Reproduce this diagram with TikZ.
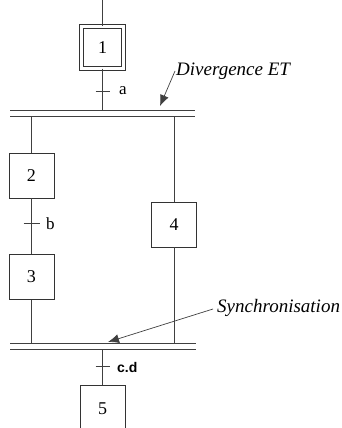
\documentclass[tikz,border=0pt]{standalone}
\usepackage{fontspec}
\setmainfont{Liberation Serif}
\newfontfamily\labelfont{Liberation Sans}
\usetikzlibrary{arrows.meta}

\tikzset{
  stepbox/.style={draw=black!80, line width=0.9pt, minimum width=45pt, minimum height=45pt, inner sep=0pt, font=\fontsize{18}{21}\selectfont},
  initstep/.style={stepbox, double, double distance=3.2pt, minimum width=41.5pt, minimum height=41.5pt},
  link/.style={draw=black!75, line width=0.9pt},
  note/.style={font=\fontsize{19}{22}\selectfont\itshape, inner sep=0pt},
  cond/.style={font=\fontsize{17}{20}\selectfont, inner sep=0pt},
  pointer/.style={draw=black!75, line width=0.7pt, -{Latex[length=11pt,width=9pt]}}
}

\begin{document}
\begin{tikzpicture}[x=1pt, y=-1pt]
\useasboundingbox (0,0) rectangle (342,428);
\clip (0,0) rectangle (342,428);

% Steps
\node[initstep] (s1) at (102.5,47.5) {1};
\node[stepbox] (s2) at (31.5,175.5) {2};
\node[stepbox] (s3) at (31.5,277) {3};
\node[stepbox] (s4) at (174,224.5) {4};
\node[stepbox, minimum height=48pt] (s5) at (102.5,409) {5};

% Coordinates of the double bars
\coordinate (top) at (102.5,0);
\coordinate (divA) at (10,110);   \coordinate (divB) at (195,110);
\coordinate (divC) at (10,116.5); \coordinate (divD) at (195,116.5);
\coordinate (synA) at (10,343);   \coordinate (synB) at (196,343);
\coordinate (synC) at (10,349);   \coordinate (synD) at (196,349);

% Divergence ET and synchronisation bars
\draw[link] (divA) -- (divB);
\draw[link] (divC) -- (divD);
\draw[link] (synA) -- (synB);
\draw[link] (synC) -- (synD);

% Links
\draw[link] (top) -- (s1.north);
\draw[link] (s1.south) -- (s1.south |- divA);
\draw[link] (s2.north |- divC) -- (s2.north);
\draw[link] (s2.south) -- (s3.north);
\draw[link] (s3.south) -- (s3.south |- synA);
\draw[link] (s4.north |- divC) -- (s4.north);
\draw[link] (s4.south) -- (s4.south |- synA);
\draw[link] (s5.north |- synC) -- (s5.north);

% Transitions
\coordinate (ta) at (102.5,91);
\coordinate (tb) at (31.5,223);
\coordinate (tc) at (102.5,366);
\draw[link] ([xshift=-7pt]ta) -- ([xshift=7pt]ta);
\draw[link] ([xshift=-8pt]tb) -- ([xshift=8pt]tb);
\draw[link] ([xshift=-7pt]tc) -- ([xshift=7pt]tc);
\node[cond, anchor=base west] (la) at (119,94) {a};
\node[cond, anchor=base west] (lb) at (46,229) {b};
\node[cond, font=\labelfont\bfseries\fontsize{14}{16}\selectfont, anchor=base west] (lc) at (117,372) {c.d};

% Comments with arrows
\node[note, anchor=base west] (div) at (176,75) {Divergence ET};
\node[note, anchor=base west] (syn) at (217,312) {Synchronisation};
\coordinate (divtip) at (160,106);
\coordinate (syntip) at (108,342);
\draw[pointer] ([shift={(-1,-4)}]div.base west) -- (divtip);
\draw[pointer] ([shift={(-4,-3)}]syn.base west) -- (syntip);
\end{tikzpicture}
\end{document}
